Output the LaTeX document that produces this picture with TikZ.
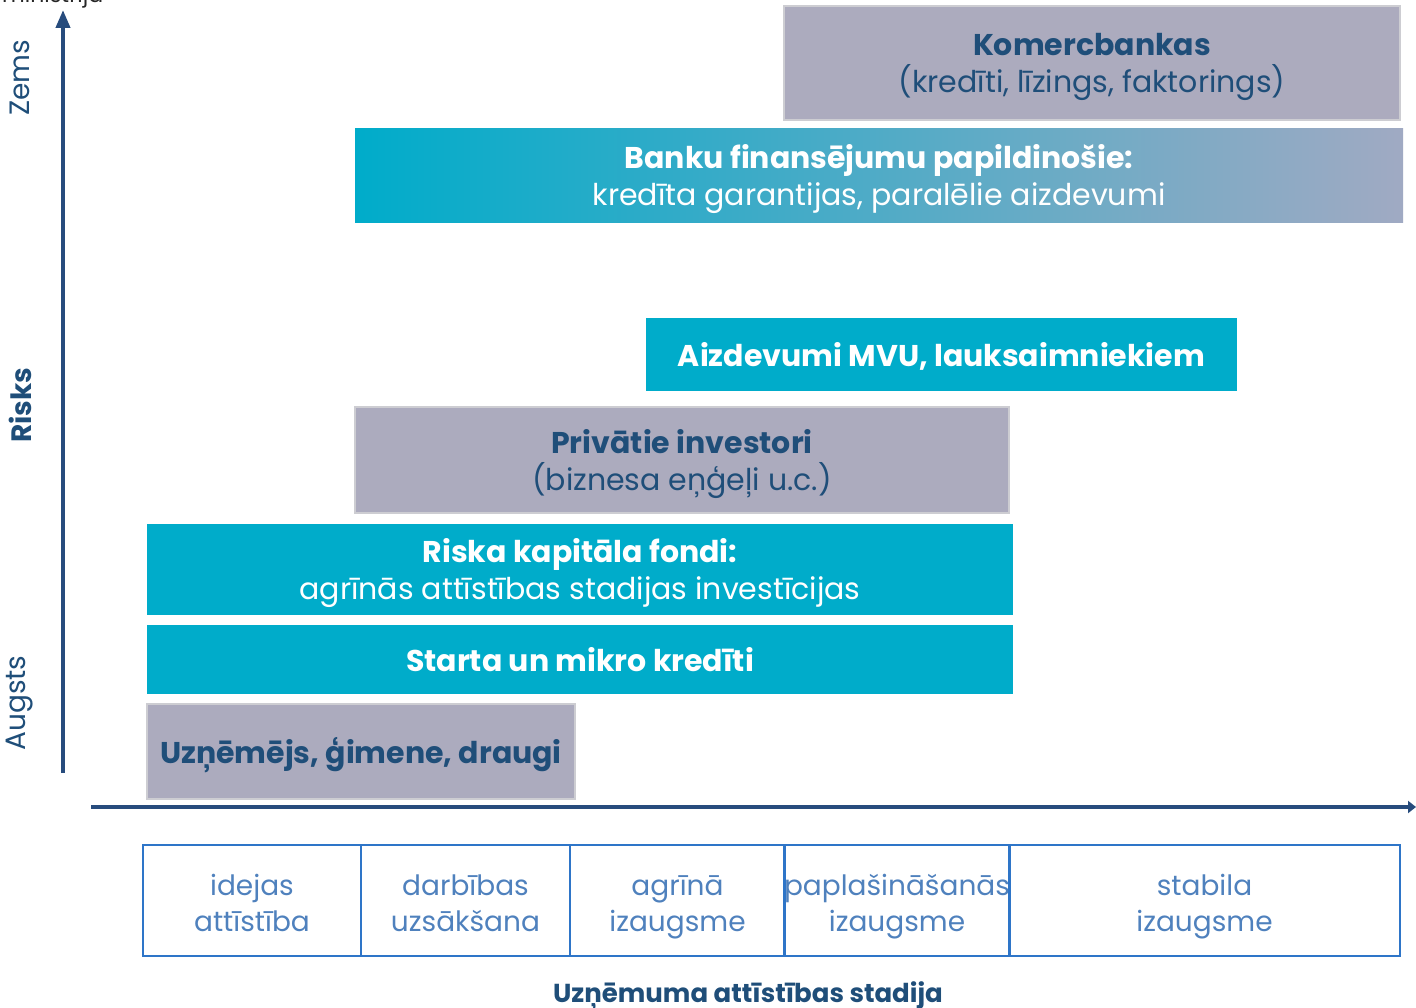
\documentclass[tikz,border=0pt]{standalone}
\usepackage{fontspec}
\setmainfont{Poppins}
\usetikzlibrary{arrows.meta}
\definecolor{tealbox}{RGB}{0,172,202}
\definecolor{greybox}{RGB}{172,171,190}
\definecolor{greyedge}{RGB}{205,205,210}
\definecolor{darkblue}{RGB}{31,78,121}
\definecolor{axisblue}{RGB}{39,76,125}
\definecolor{stageedge}{RGB}{46,117,200}
\definecolor{stagetext}{RGB}{79,129,189}
\definecolor{gradend}{RGB}{160,170,195}
\newcommand\bstrut{\rule[-10pt]{0pt}{43pt}}
\newcommand\sstrut{\rule[-10pt]{0pt}{45pt}}
\newcommand\tightlines{\lineskiplimit=-100pt\relax\lineskip=0pt\relax}
\tikzset{
  tbox/.style={fill=tealbox, draw=none, inner sep=0pt, align=center, text=white},
  gbox/.style={fill=greybox, draw=greyedge, line width=2pt, inner sep=0pt, align=center, text=darkblue},
  stagebox/.style={draw=stageedge, line width=1.2pt, inner sep=0pt, align=center, text=stagetext, minimum height=111pt, font=\fontsize{28}{36}\selectfont\tightlines},
  big/.style={font=\fontsize{30}{37}\selectfont\tightlines},
  axisline/.style={draw=axisblue, line width=4pt},
}
\begin{document}
\begin{tikzpicture}[x=1pt,y=-1pt]
\useasboundingbox (0,0) rectangle (1416,1008);
% cut-off text at top
\node[anchor=base west, inner sep=0pt, font=\fontsize{22}{26}\selectfont, text=black!85] (src) at (2,3) {ministrija};
% boxes
\node[gbox, big, minimum width=616pt, minimum height=114pt] (komerc) at (1092,63) {\bstrut\textbf{Komercbankas}\\\bstrut(kredīti, līzings, faktorings)};
\node[tbox, big, minimum width=1048pt, minimum height=94pt, left color=tealbox, right color=gradend] (banku) at (879,176) {\bstrut\textbf{Banku finansējumu papildinošie:}\\\bstrut kredīta garantijas, paralēlie aizdevumi};
\node[tbox, big, minimum width=591pt, minimum height=73pt] (mvu) at (941.5,354.5) {\bstrut\textbf{Aizdevumi MVU, lauksaimniekiem}};
\node[gbox, big, minimum width=654pt, minimum height=106pt] (priv) at (682,460) {\bstrut\textbf{Privātie investori}\\\bstrut(biznesa eņģeļi u.c.)};
\node[tbox, big, minimum width=866pt, minimum height=91pt] (riska) at (580,569.5) {\bstrut\textbf{Riska kapitāla fondi:}\\\bstrut agrīnās attīstības stadijas investīcijas};
\node[tbox, big, minimum width=866pt, minimum height=69pt] (starta) at (580,659.5) {\bstrut\textbf{Starta un mikro kredīti}};
\node[gbox, big, minimum width=428pt, minimum height=95pt] (uzn) at (361,751.5) {\bstrut\textbf{Uzņēmējs, ģimene, draugi}};
% axes
\coordinate (yb) at (63,773);
\coordinate (yt) at (63,10);
\coordinate (xl) at (91,807);
\coordinate (xr) at (1416,807);
\draw[axisline, -{Triangle[width=14pt,length=18pt]}] (yb) -- (yt);
\draw[axisline, -{Triangle[width=12pt,length=8pt]}] (xl) -- (xr);
\node[rotate=90, font=\fontsize{28}{34}\selectfont, text=darkblue] (zems) at (20,78) {Zems};
\node[rotate=90, font=\fontsize{28}{34}\selectfont, text=darkblue] (risks) at (20,405) {\textbf{Risks}};
\node[rotate=90, font=\fontsize{28}{34}\selectfont, text=darkblue] (augsts) at (20,703) {Augsts};
% stages
\node[stagebox, minimum width=218pt] (s1) at (252,900.5) {\sstrut idejas\\\sstrut attīstība};
\node[stagebox, minimum width=209pt] (s2) at (465.5,900.5) {\sstrut darbības\\\sstrut uzsākšana};
\node[stagebox, minimum width=215pt] (s3) at (677.5,900.5) {\sstrut agrīnā\\\sstrut izaugsme};
\node[stagebox, minimum width=224pt] (s4) at (897,900.5) {\sstrut paplašināšanās\\\sstrut izaugsme};
\node[stagebox, minimum width=391pt] (s5) at (1204.5,900.5) {\sstrut stabila\\\sstrut izaugsme};
\node[font=\fontsize{26}{30}\selectfont, text=darkblue, anchor=base] (xlabel) at (748,1002) {\textbf{Uzņēmuma attīstības stadija}};
\end{tikzpicture}
\end{document}
